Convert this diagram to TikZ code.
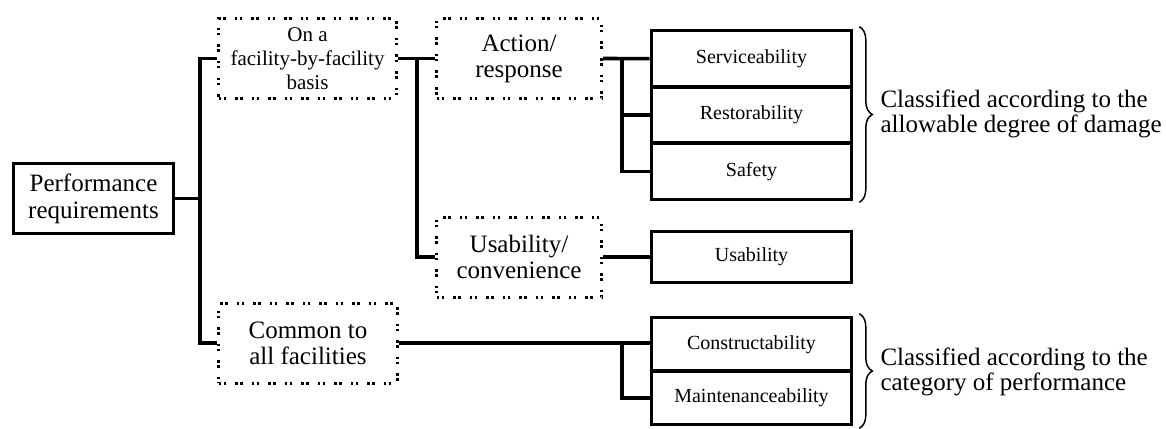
\documentclass[tikz,border=0pt]{standalone}
\usepackage{fontspec}
\setmainfont{Liberation Serif}
\usetikzlibrary{calc,decorations.pathreplacing}
\begin{document}
\begin{tikzpicture}[x=1pt,y=-1pt,
  wire/.style={line width=3.6pt, line join=miter},
  mainbox/.style={draw, line width=3.6pt, inner sep=0pt, align=center,
    minimum width=160pt, minimum height=70pt, font=\fontsize{25}{27}\selectfont},
  dotbox/.style={draw, line width=3pt, inner sep=0pt, align=center,
    dash pattern=on 2.5pt off 2.5pt on 2.5pt off 9pt,
    minimum width=165pt, minimum height=80pt, font=\fontsize{25}{26}\selectfont},
  leafbox/.style={draw, line width=3.6pt, inner sep=0pt, align=center,
    minimum width=200pt, font=\fontsize{20}{22}\selectfont},
  bracestyle/.style={line width=1.5pt, decorate, decoration={brace, amplitude=13pt}},
  note/.style={anchor=west, inner sep=0pt, align=left, font=\fontsize{25}{25}\selectfont}]

\useasboundingbox (0,0) rectangle (1166,428);

% root
\node[mainbox] (perf) at (93.5,198.5) {Performance\\requirements};

% second level
\node[dotbox, minimum width=178pt, font=\fontsize{21}{24}\selectfont] (fac) at (307.5,58.5)
  {On a\\facility-by-facility\\basis};
\node[dotbox, minimum width=179pt] (com) at (308,343) {Common to\\all facilities};

% third level
\node[dotbox] (act) at (519,58.5) {Action/\\response};
\node[dotbox] (usc) at (519,257) {Usability/\\convenience};

% leaves
\node[leafbox, minimum height=56.33pt] (ser) at (751.5,58.67) {Serviceability};
\node[leafbox, minimum height=56.33pt] (res) at (751.5,115) {Restorability};
\node[leafbox, minimum height=56.33pt] (saf) at (751.5,171.33) {Safety};
\node[leafbox, minimum height=51pt] (usa) at (751.5,257) {Usability};
\node[leafbox, minimum height=53.5pt] (con) at (751.5,344.25) {Constructability};
\node[leafbox, minimum height=53.5pt] (mai) at (751.5,397.75) {Maintenanceability};

% trunk positions
\coordinate (j1) at (200,0);
\coordinate (j2) at (417,0);
\coordinate (j3) at (622,0);

% connectors
\draw[wire] (perf.east) -- (perf.east -| j1);
\draw[wire] (fac.west) -- (fac.west -| j1) -- (com.west -| j1) -- (com.west);

\draw[wire] (fac.east) -- (act.west);
\draw[wire] (fac.east -| j2) -- (usc.west -| j2) -- (usc.west);

\draw[wire] (act.east) -- (ser.west);
\draw[wire] (act.east -| j3) |- (saf.west);
\draw[wire] (res.west -| j3) -- (res.west);

\draw[wire] (usc.east) -- (usa.west);

\draw[wire] (com.east) -- (com.east -| con.west);
\draw[wire] (com.east -| j3) |- (mai.west);

% braces and their notes
\draw[bracestyle] ($(ser.north east)+(6,-2)$) -- ($(saf.south east)+(6,1)$);
\draw[bracestyle] ($(con.north east)+(6,-2)$) -- ($(mai.south east)+(6,2)$);

\node[note] (n1) at ($(res.east)+(27,-1)$) {Classified according to the\\allowable degree of damage};
\node[note] (n2) at ($(con.south east)+(27,-1)$) {Classified according to the\\category of performance};
\end{tikzpicture}
\end{document}
